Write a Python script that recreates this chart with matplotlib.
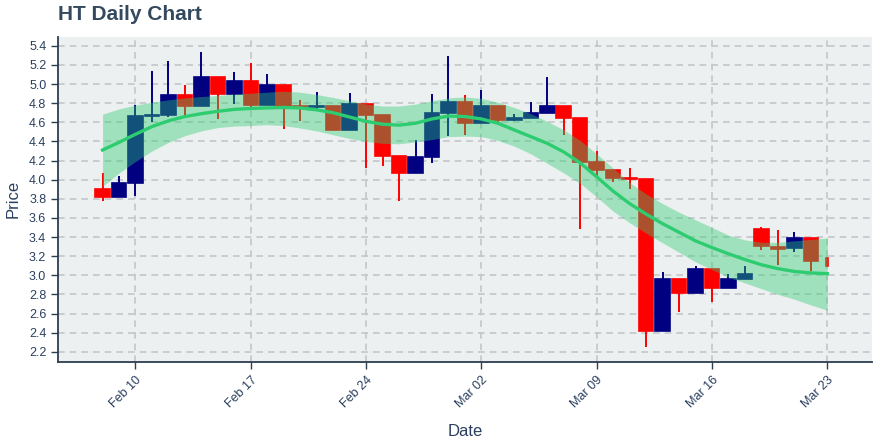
import pandas as pd
import matplotlib
matplotlib.use("Agg")
import matplotlib.pyplot as plt
import matplotlib.dates as mdates

# daily candles, Feb 8 - Mar 23 2020
dates = pd.date_range("2020-02-08", "2020-03-23", freq="D")

opens = [3.90, 3.82, 3.96, 4.67, 4.68, 4.89, 4.77, 5.07, 4.90, 5.03,
         4.78, 4.99, 4.77, 4.755, 4.77, 4.52, 4.79, 4.68, 4.25, 4.07,
         4.24, 4.70, 4.81, 4.59, 4.77, 4.62, 4.65, 4.70, 4.77, 4.65,
         4.19, 4.10, 4.02, 4.01, 2.42, 2.96, 2.81, 3.07, 2.87, 2.96,
         3.48, 3.30, 3.29, 3.39, 3.18]
highs = [4.07, 4.04, 4.78, 5.14, 5.24, 4.99, 5.34, 5.07, 5.13, 5.22,
         5.11, 4.99, 4.83, 4.92, 4.77, 4.91, 4.79, 4.68, 4.25, 4.42,
         4.90, 5.29, 4.89, 4.94, 4.77, 4.69, 4.81, 5.07, 4.77, 4.65,
         4.30, 4.10, 4.12, 4.01, 3.03, 2.96, 3.10, 3.07, 3.01, 3.10,
         3.51, 3.47, 3.45, 3.39, 3.18]
lows = [3.78, 3.82, 3.83, 4.60, 4.66, 4.65, 4.77, 4.63, 4.79, 4.76,
        4.78, 4.53, 4.61, 4.74, 4.52, 4.52, 4.12, 4.14, 3.78, 4.07,
        4.17, 4.46, 4.47, 4.59, 4.58, 4.61, 4.65, 4.70, 4.47, 3.48,
        4.04, 3.98, 3.90, 2.25, 2.42, 2.62, 2.81, 2.72, 2.87, 2.96,
        3.26, 3.11, 3.24, 3.05, 3.10]
closes = [3.82, 3.96, 4.67, 4.675, 4.89, 4.77, 5.07, 4.90, 5.03, 4.78,
          4.99, 4.77, 4.76, 4.77, 4.52, 4.79, 4.68, 4.25, 4.07, 4.24,
          4.70, 4.81, 4.59, 4.77, 4.62, 4.645, 4.70, 4.77, 4.65, 4.19,
          4.10, 4.02, 4.01, 2.42, 2.96, 2.82, 3.07, 2.87, 2.96, 3.01,
          3.31, 3.28, 3.39, 3.15, 3.10]

# smoothed trend and its band
trend = [4.31, 4.39, 4.475, 4.555, 4.615, 4.66, 4.69, 4.715, 4.735, 4.745,
         4.75, 4.755, 4.75, 4.73, 4.70, 4.655, 4.61, 4.58, 4.57, 4.59,
         4.635, 4.665, 4.66, 4.635, 4.59, 4.52, 4.45, 4.38, 4.29, 4.175,
         4.03, 3.88, 3.75, 3.64, 3.54, 3.45, 3.36, 3.29, 3.225, 3.165,
         3.11, 3.07, 3.04, 3.025, 3.017]
band_upper = [4.685, 4.74, 4.78, 4.81, 4.835, 4.855, 4.87, 4.88, 4.895, 4.905,
              4.915, 4.925, 4.915, 4.89, 4.86, 4.825, 4.79, 4.77, 4.77, 4.79,
              4.825, 4.855, 4.865, 4.85, 4.81, 4.755, 4.69, 4.61, 4.52, 4.41,
              4.27, 4.12, 3.97, 3.85, 3.75, 3.66, 3.58, 3.50, 3.42, 3.37,
              3.345, 3.345, 3.36, 3.375, 3.39]
band_lower = [3.93, 4.07, 4.19, 4.30, 4.39, 4.46, 4.51, 4.545, 4.56, 4.566,
              4.575, 4.565, 4.54, 4.51, 4.47, 4.43, 4.40, 4.38, 4.375, 4.395,
              4.42, 4.45, 4.455, 4.45, 4.41, 4.35, 4.27, 4.17, 4.07, 3.96,
              3.82, 3.67, 3.55, 3.44, 3.34, 3.24, 3.14, 3.06, 2.98, 2.92,
              2.86, 2.80, 2.75, 2.69, 2.635]

yticks = [2.2, 2.4, 2.6, 2.8, 3.0, 3.2, 3.4, 3.6, 3.8, 4.0, 4.2, 4.4,
          4.6, 4.8, 5.0, 5.2, 5.4]

txt = "#2a3f5f"
plt.rcParams["font.family"] = ["Liberation Sans", "DejaVu Sans"]

fig = plt.figure(figsize=(8.8, 4.4), dpi=100)
ax = fig.add_axes([0.066, 0.177, 0.925, 0.74])
ax.set_facecolor("#ecf0f1")

x = mdates.date2num(dates)
w = 0.88
for i in range(len(x)):
    up = closes[i] >= opens[i]
    col = "#000080" if up else "#ff0000"
    bw = w if i < len(x) - 1 else 0.12
    ax.vlines(x[i], lows[i], highs[i], color=col, lw=1.4, zorder=2)
    lo = min(opens[i], closes[i])
    h = abs(closes[i] - opens[i])
    ax.bar(x[i], h, bottom=lo, width=bw, color=col, edgecolor=col,
           linewidth=1.2, zorder=3)

ax.fill_between(x, band_lower, band_upper, color="#2ecc71", alpha=0.4,
                lw=0, zorder=4)
ax.plot(x, trend, color="#2ecc71", lw=2.4, zorder=5)

ax.set_xlim(x[0] - 2.7, x[-1] + 2.72)
ax.set_ylim(2.092, 5.497)
ax.set_yticks(yticks)
ax.set_yticklabels([f"{v:.1f}" for v in yticks])
ax.xaxis.set_major_locator(mdates.WeekdayLocator(byweekday=mdates.MO))
ax.xaxis.set_major_formatter(mdates.DateFormatter("%b %d"))

ax.grid(True, color="#c3c7c9", ls=(0, (4, 3)), lw=1.2)
ax.set_axisbelow(True)
for s in ["top", "right"]:
    ax.spines[s].set_visible(False)
for s in ["left", "bottom"]:
    ax.spines[s].set_color("#2c3e50")
    ax.spines[s].set_linewidth(1.3)

ax.tick_params(axis="both", colors="#2c3e50", labelcolor=txt, labelsize=9,
               length=5, width=1)
for lab in ax.get_xticklabels():
    lab.set_rotation(45)
    lab.set_ha("right")
    lab.set_va("top")
    lab.set_rotation_mode("anchor")

ax.set_xlabel("Date", fontsize=12, color=txt, labelpad=10)
ax.set_ylabel("Price", fontsize=12, color=txt, labelpad=6)
fig.text(0.066, 0.945, "HT Daily Chart", fontsize=15, fontweight="bold",
         color="#34495e", ha="left", va="bottom")

fig.savefig("out.png", dpi=100)
